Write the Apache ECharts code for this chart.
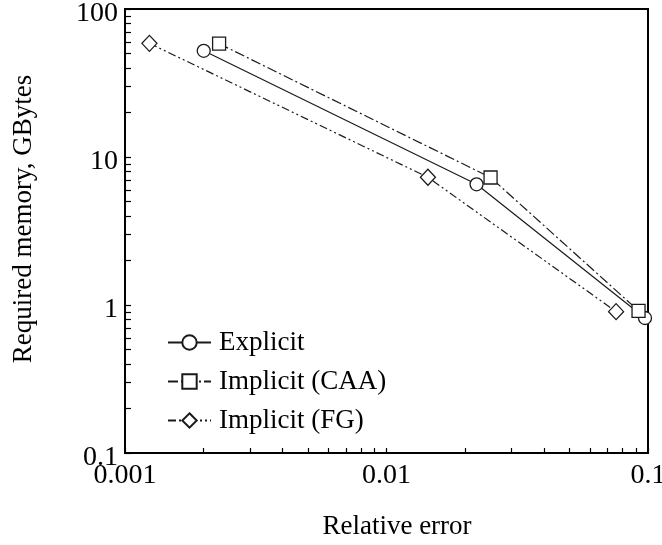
<!DOCTYPE html>
<html>
<head>
<meta charset="utf-8">
<script src="https://cdn.jsdelivr.net/npm/echarts@6/dist/echarts.min.js"></script>
<style>html,body{margin:0;padding:0;background:#fff}#c{width:662px;height:545px}</style>
</head>
<body>
<div id="c"></div>
<script>
// ---- data ----
const xTickLabels = [0.001, 0.01, 0.1];
const yTickLabels = [0.1, 1, 10, 100];
const xMinorTicks = [0.001, 0.002, 0.003, 0.004, 0.005, 0.006, 0.007, 0.008, 0.009, 0.01, 0.02, 0.03, 0.04, 0.05, 0.06, 0.07, 0.08, 0.09, 0.1];
const yMinorTicks = [0.1, 0.2, 0.3, 0.4, 0.5, 0.6, 0.7, 0.8, 0.9, 1, 2, 3, 4, 5, 6, 7, 8, 9, 10, 20, 30, 40, 50, 60, 70, 80, 90, 100];
const seriesNames = ['Explicit', 'Implicit (CAA)', 'Implicit (FG)'];
const explicitErr = [0.0020, 0.0221, 0.0974];
const explicitMem = [52.2, 6.54, 0.817];
const caaErr = [0.00229, 0.0250, 0.0920];
const caaMem = [58.3, 7.27, 0.914];
const fgErr = [0.00124, 0.0144, 0.0755];
const fgMem = [58.6, 7.29, 0.902];
const xTitle = 'Relative error';
const yTitle = 'Required memory, GBytes';

const FONT = 'Liberation Serif';
const INK = '#1a1a1a';
const pairs = (xs, ys) => xs.map((x, i) => [x, ys[i]]);
const findTick = (list, v) => list.find(k => Math.abs(Math.log10(k) - Math.log10(v)) < 1e-6);
const fmtX = v => { const t = findTick(xTickLabels, v); return t === undefined ? '' : String(t); };
const fmtY = v => { const t = findTick(yTickLabels, v); return t === undefined ? '' : '{a|' + String(t) + '}'; };

function mk(name, data, symbol, size, dash) {
  return {
    name, type: 'line', data, symbol, symbolSize: size, clip: false,
    showAllSymbol: true,
    lineStyle: { color: INK, width: 1.2, type: dash },
    itemStyle: { color: '#fff', borderColor: INK, borderWidth: 1.3 },
    emphasis: { disabled: true }
  };
}

const chart = echarts.init(document.getElementById('c'), null, { renderer: 'canvas' });
chart.setOption({
  animation: false,
  backgroundColor: '#fff',
  grid: { left: 125, right: 14, top: 9, bottom: 92, containLabel: false, outerBoundsMode: 'none', show: true, borderColor: '#000', borderWidth: 2, backgroundColor: 'transparent' },
  xAxis: {
    type: 'log', logBase: 10, min: 0.001, max: 0.1,
    axisLine: { show: true, lineStyle: { color: '#000', width: 2 } },
    axisTick: { show: true, inside: true, length: 5, customValues: xMinorTicks, lineStyle: { color: '#000', width: 1.2 } },
    axisLabel: { customValues: xTickLabels, formatter: fmtX, fontFamily: FONT, fontSize: 28, color: '#000', margin: 9 },
    splitLine: { show: false }, minorTick: { show: false }
  },
  yAxis: {
    type: 'log', logBase: 10, min: 0.1, max: 100,
    axisLine: { show: true, lineStyle: { color: '#000', width: 2 } },
    axisTick: { show: true, inside: true, length: 6, customValues: yMinorTicks, lineStyle: { color: '#000', width: 1.2 } },
    axisLabel: {
      customValues: yTickLabels, formatter: fmtY, color: '#000', margin: 7,
      rich: { a: { fontFamily: FONT, fontSize: 28, color: '#000', padding: [9, 0, 0, 0] } }
    },
    splitLine: { show: false }, minorTick: { show: false }
  },
  legend: {
    orient: 'vertical', left: 162, top: 324, itemGap: 12, itemWidth: 43, itemHeight: 18,
    data: seriesNames,
    textStyle: { fontFamily: FONT, fontSize: 27, color: '#000', padding: [0, 0, 0, 3] },
    selectedMode: false
  },
  graphic: [
    { type: 'text', x: 0, y: 0, style: { text: xTitle, x: 397, y: 527, align: 'center', verticalAlign: 'middle', font: '27px "Liberation Serif"', fill: '#000' } },
    { type: 'text', x: 24, y: 219, rotation: Math.PI / 2, style: { text: yTitle, x: 0, y: 0, align: 'center', verticalAlign: 'middle', font: '27px "Liberation Serif"', fill: '#000' } }
  ],
  series: [
    mk(seriesNames[0], pairs(explicitErr, explicitMem), 'circle', 13, 'solid'),
    mk(seriesNames[1], pairs(caaErr, caaMem), 'rect', 13, [10, 3, 2, 3]),
    mk(seriesNames[2], pairs(fgErr, fgMem), 'diamond', [15, 16], [8, 3, 2, 3, 2, 3])
  ]
});
</script>
</body>
</html>
